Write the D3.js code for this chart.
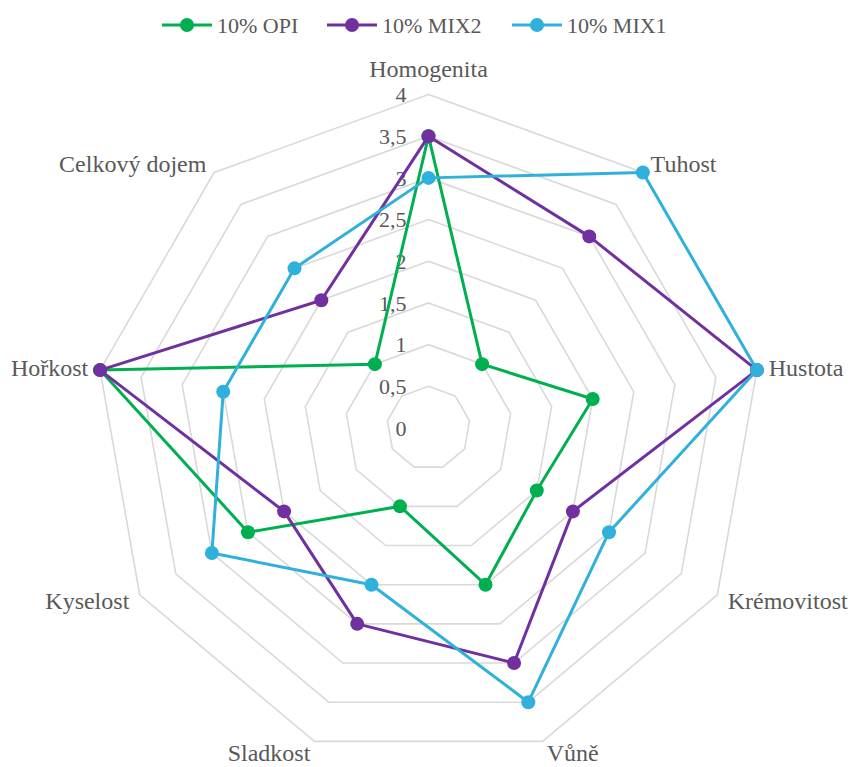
<!DOCTYPE html>
<html>
<head>
<meta charset="utf-8">
<script src="https://cdn.jsdelivr.net/npm/d3@7/dist/d3.min.js"></script>
<style>
  body { margin: 0; background: #fff; }
</style>
</head>
<body>
<svg id="chart" width="853" height="767"></svg>
<script>
// data
var categories = ["Homogenita", "Tuhost", "Hustota", "Krémovitost", "Vůně", "Sladkost", "Kyselost", "Hořkost", "Celkový dojem"];
var opi  = [3.5, 1, 2, 1.5, 2, 1, 2.5, 4, 1];
var mix2 = [3.5, 3, 4, 2, 3, 2.5, 2, 4, 2];
var mix1 = [3, 4, 4, 2.5, 3.5, 2, 3, 2.5, 2.5];
var seriesNames = ["10% OPI", "10% MIX2", "10% MIX1"];
var seriesColors = ["#00b050", "#7030a0", "#2fb1dc"];
var ticks = [0, 0.5, 1, 1.5, 2, 2.5, 3, 3.5, 4];

var series = [opi, mix2, mix1];
var FONT = "Liberation Serif";

var svg = d3.select("#chart");
var cx = 428.5, cy = 428;

var r = d3.scaleLinear().domain([0, 4]).range([0, 333.5]);
var angle = d3.scaleLinear().domain([0, categories.length]).range([0, 2 * Math.PI]);

var fmt = d3.formatLocale({decimal: ",", thousands: " ", grouping: [3], currency: ["", ""]}).format("~g");

var g = svg.append("g").attr("transform", "translate(" + cx + "," + cy + ")");

var ring = d3.lineRadial()
    .angle(function(d, i) { return angle(i); })
    .radius(function(d) { return r(d); })
    .curve(d3.curveLinearClosed);

// grid rings
g.selectAll(".grid")
  .data(ticks.slice(1))
  .enter().append("path")
    .attr("class", "grid")
    .attr("d", function(t) { return ring(categories.map(function() { return t; })); })
    .attr("fill", "none")
    .attr("stroke", "#d9d9d9")
    .attr("stroke-width", 1.6);

// tick labels
g.selectAll(".tick")
  .data(ticks)
  .enter().append("text")
    .attr("x", -22)
    .attr("y", function(t) { return -r(t); })
    .attr("dy", "0.35em")
    .attr("text-anchor", "end")
    .style("font-family", FONT)
    .style("font-size", "22px")
    .style("fill", "#595959")
    .text(function(t) { return fmt(t); });

// axis labels
g.selectAll(".cat")
  .data(categories)
  .enter().append("text")
    .attr("x", function(d, i) { return (r(4) + 12) * Math.sin(angle(i)); })
    .attr("y", function(d, i) {
      var c = Math.cos(angle(i)), s = Math.sin(angle(i));
      var y = -(r(4) + 12) * c;
      if (Math.abs(s) < 0.1) y -= 14;
      return y;
    })
    .attr("dy", "0.35em")
    .attr("text-anchor", function(d, i) {
      var s = Math.sin(angle(i));
      return s > 0.1 ? "start" : (s < -0.1 ? "end" : "middle");
    })
    .style("font-family", FONT)
    .style("font-size", "24px")
    .style("fill", "#595959")
    .text(function(d) { return d; });

// series
var lineFn = d3.lineRadial()
    .angle(function(d, i) { return angle(i); })
    .radius(function(d) { return r(d); })
    .curve(d3.curveLinearClosed);

series.forEach(function(vals, k) {
  var sg = g.append("g");
  sg.append("path")
    .attr("d", lineFn(vals))
    .attr("fill", "none")
    .attr("stroke", seriesColors[k])
    .attr("stroke-width", 3)
    .attr("stroke-linejoin", "round");
  sg.selectAll("circle")
    .data(vals)
    .enter().append("circle")
      .attr("cx", function(d, i) { return r(d) * Math.sin(angle(i)); })
      .attr("cy", function(d, i) { return -r(d) * Math.cos(angle(i)); })
      .attr("r", 7)
      .attr("fill", seriesColors[k]);
});

// legend
var legendX = [162, 327, 512];
var leg = svg.append("g");
seriesNames.forEach(function(name, k) {
  var lg = leg.append("g").attr("transform", "translate(" + legendX[k] + ",25)");
  lg.append("line").attr("x1", 0).attr("x2", 50).attr("y1", 0).attr("y2", 0)
    .attr("stroke", seriesColors[k]).attr("stroke-width", 3);
  lg.append("circle").attr("cx", 25).attr("cy", 0).attr("r", 7).attr("fill", seriesColors[k]);
  lg.append("text").attr("x", 55).attr("y", 0).attr("dy", "0.35em")
    .style("font-family", FONT).style("font-size", "22px").style("fill", "#595959")
    .text(name);
});
</script>
</body>
</html>
